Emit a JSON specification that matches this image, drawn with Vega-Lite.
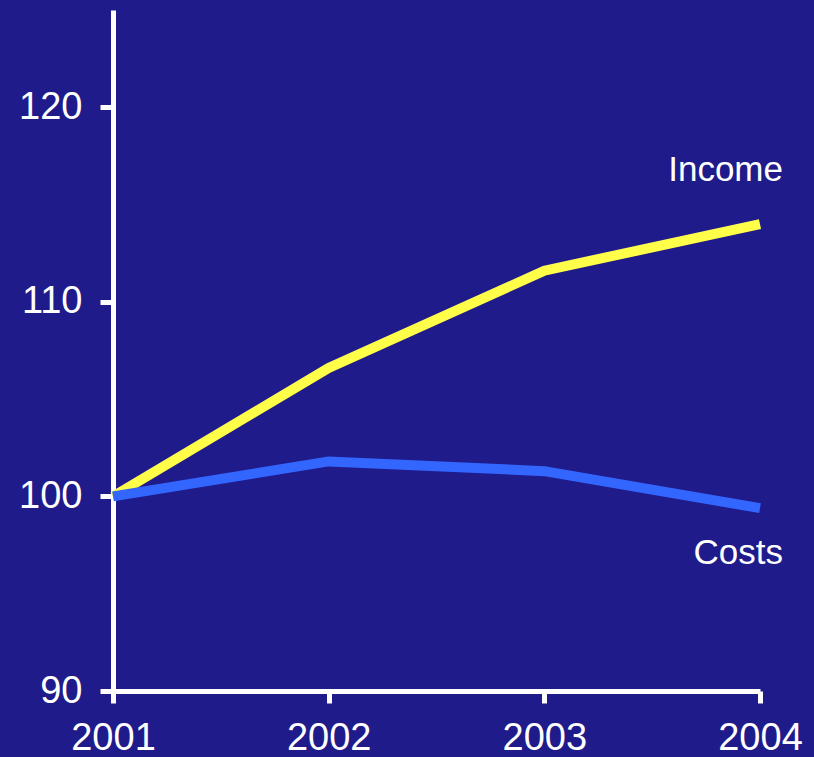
{
  "$schema": "https://vega.github.io/schema/vega-lite/v6.json",
  "width": 647,
  "height": 681,
  "autosize": {"type": "none"},
  "padding": {"left": 113, "top": 10, "right": 54, "bottom": 66},
  "background": "#1f1b8b",
  "config": {
    "view": {"stroke": null},
    "font": "Liberation Sans"
  },
  "datasets": {
    "series": [
      {"year": 2001, "series": "Income", "index": 100.0},
      {"year": 2002, "series": "Income", "index": 106.6},
      {"year": 2003, "series": "Income", "index": 111.6},
      {"year": 2004, "series": "Income", "index": 114.0},
      {"year": 2001, "series": "Costs", "index": 100.0},
      {"year": 2002, "series": "Costs", "index": 101.8},
      {"year": 2003, "series": "Costs", "index": 101.3},
      {"year": 2004, "series": "Costs", "index": 99.4}
    ],
    "labels": [
      {"year": 2004, "series": "Income", "index": 116.8},
      {"year": 2004, "series": "Costs", "index": 97.1}
    ]
  },
  "encoding": {
    "x": {
      "field": "year",
      "type": "quantitative",
      "scale": {"domain": [2001, 2004], "nice": false, "zero": false},
      "axis": {
        "values": [2001, 2002, 2003, 2004],
        "format": "d",
        "title": null,
        "grid": false,
        "domainColor": "white",
        "domainWidth": 5,
        "tickColor": "white",
        "tickWidth": 5,
        "tickSize": 12,
        "labelColor": "white",
        "labelFont": "Liberation Sans",
        "labelFontSize": 38,
        "labelPadding": 16,
        "labelFlush": false
      }
    },
    "y": {
      "field": "index",
      "type": "quantitative",
      "scale": {"domain": [90, 125], "nice": false, "zero": false},
      "axis": {
        "values": [90, 100, 110, 120],
        "title": null,
        "grid": false,
        "domainColor": "white",
        "domainWidth": 5,
        "tickColor": "white",
        "tickWidth": 5,
        "tickSize": 13,
        "labelColor": "white",
        "labelFont": "Liberation Sans",
        "labelFontSize": 38,
        "labelPadding": 18,
        "labelFlush": false
      }
    }
  },
  "layer": [
    {
      "data": {"name": "series"},
      "mark": {"type": "line", "strokeWidth": 10, "strokeCap": "butt", "strokeJoin": "miter"},
      "encoding": {
        "color": {
          "field": "series",
          "type": "nominal",
          "scale": {"domain": ["Income", "Costs"], "range": ["#ffff4a", "#3366ff"]},
          "legend": null
        },
        "order": {"field": "year"}
      }
    },
    {
      "data": {"name": "labels"},
      "mark": {"type": "text", "align": "right", "baseline": "middle", "dx": 23, "fontSize": 35, "fill": "white"},
      "encoding": {"text": {"field": "series"}}
    }
  ]
}
